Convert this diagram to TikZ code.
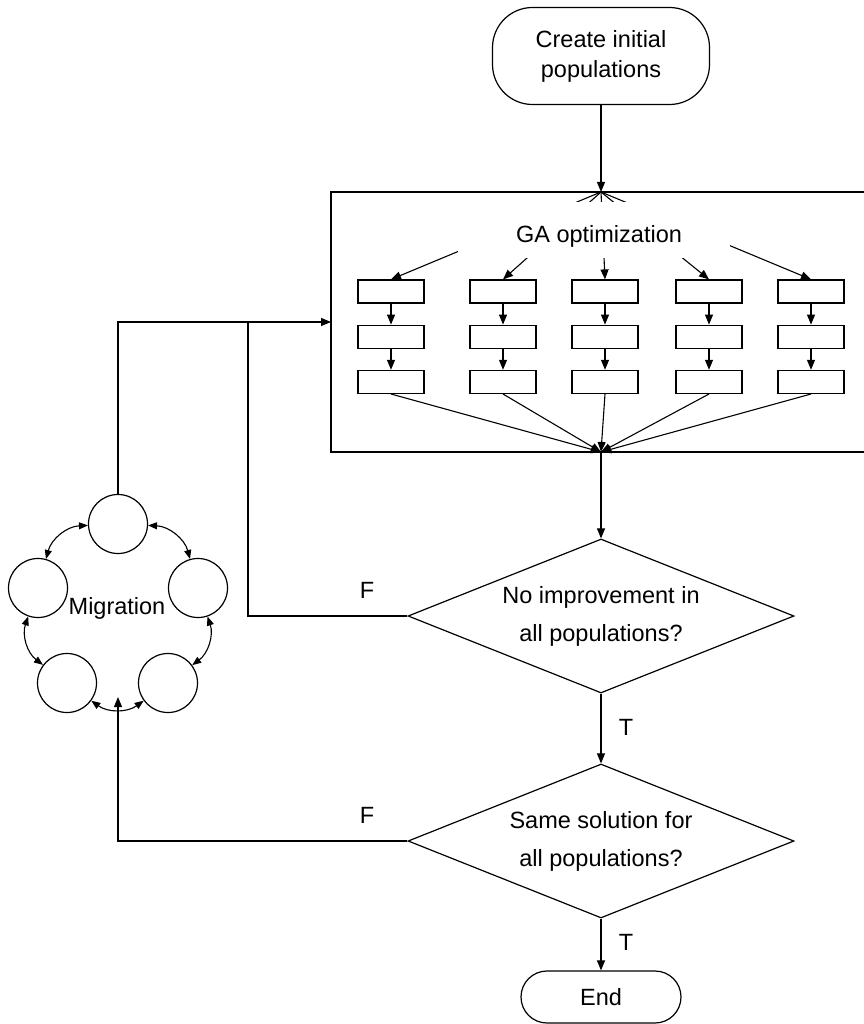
\documentclass[tikz,border=0pt]{standalone}
\usepackage{fontspec}
\setmainfont{Liberation Sans}
\usetikzlibrary{arrows.meta,positioning,shapes.geometric,calc}
\tikzset{
  fblk/.style={rectangle, rounded corners=40pt, draw, line width=1.2pt, align=center,
               font=\fontsize{23.5}{30}\selectfont, minimum width=217pt, minimum height=97pt},
  fdec/.style={diamond, aspect=2.5, draw, line width=1.2pt, align=center, inner sep=0pt,
               font=\fontsize{23.5}{38}\selectfont, minimum width=386pt, minimum height=154pt},
  gblk/.style={rectangle, draw, line width=1.2pt, inner sep=0pt, minimum width=66pt, minimum height=23pt},
  mcir/.style={circle, draw, line width=1.2pt, inner sep=0pt, minimum size=59pt},
  flbl/.style={font=\fontsize{23.5}{28}\selectfont},
  farr/.style={-{Triangle[length=10pt,width=8pt]}, line width=1.1pt},
  marr/.style={{Triangle[length=9pt,width=7pt]}-{Triangle[length=9pt,width=7pt]}, line width=1.1pt},
}
\begin{document}
\begin{tikzpicture}[x=1pt,y=-1pt]
\useasboundingbox (0,0) rectangle (863,1024);
% start and GA block
\node[fblk](st) at (601,56){Create initial\\populations};
\coordinate (gtop) at (601,192);
\coordinate (gbot) at (601,452);
\coordinate (gin) at (331,322);
\coordinate (jn) at (248,322);
\draw[line width=1.5pt] (880,192)--(331,192)--(331,452)--(880,452);
\draw[farr](st)--(gtop);
\foreach \c/\x in {1/391,2/503,3/605,4/709,5/811}{
  \node[gblk](b\c1) at (\x,291.5){};
  \node[gblk,below=21pt of b\c1](b\c2){};
  \node[gblk,below=21pt of b\c2](b\c3){};
  \draw[farr](gtop)--(b\c1.north);
  \draw[farr](b\c1)--(b\c2);
  \draw[farr](b\c2)--(b\c3);
  \draw[farr](b\c3.south)--(gbot);
}
\fill[white] (458,202) rectangle (730,258);
\node[flbl](ga) at (599,236){GA optimization};
% decisions
\node[fdec](d1) at (601,616){No improvement in\\all populations?};
\node[fdec](d2) at (601,841){Same solution for\\all populations?};
\node[fblk,rounded corners=26pt,minimum width=160pt,minimum height=52pt](en) at (601,997){End};
\draw[farr](gbot)--(d1);
\draw[farr](d1)--(d2);
\draw[farr](d2)--(en);
\node[flbl](t1) at (626,727){T};
\node[flbl](t2) at (626,942){T};
\node[flbl](f1) at (367,590){F};
\node[flbl](f2) at (367,815){F};
% migration ring
\node[mcir](m1) at (118,524){};
\node[mcir](m2) at (198,588){};
\node[mcir](m3) at (168,683){};
\node[mcir](m4) at (67,683){};
\node[mcir](m5) at (38,588){};
\node[flbl](mg) at (117,608){Migration};
\coordinate (mb) at (118,697);
\draw[marr](m1) to[bend left=36] (m2);
\draw[marr](m2) to[bend left=36] (m3);
\draw[marr](m3) to[bend left=36] (m4);
\draw[marr](m4) to[bend left=36] (m5);
\draw[marr](m5) to[bend left=36] (m1);
\draw[farr](m1)|-(gin);
\draw[line width=1.1pt](d1.west)-|(jn);
\draw[farr](d2.west)-|(mb);
\end{tikzpicture}
\end{document}
